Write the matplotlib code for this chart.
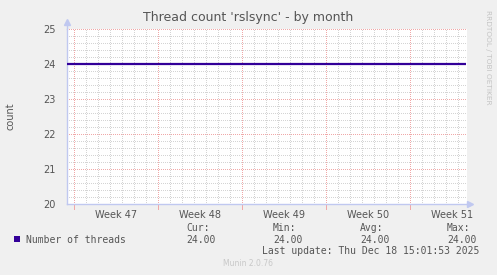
import matplotlib
matplotlib.use('Agg')
import matplotlib.pyplot as plt
from matplotlib.ticker import MultipleLocator

title = "Thread count 'rslsync' - by month"
ylabel = "count"
week_labels = ["Week 47", "Week 48", "Week 49", "Week 50", "Week 51"]
week_starts = [0, 7, 14, 21, 28]          # days since Mon 17 Nov 2025
series_name = "Number of threads"
days = [-0.6, 32.7]
threads = [24.0, 24.0]
stats_labels = ["Cur:", "Min:", "Avg:", "Max:"]
stats_values = [24.00, 24.00, 24.00, 24.00]
last_update = "Last update: Thu Dec 18 15:01:53 2025"
yticks = [20, 21, 22, 23, 24, 25]
footer = "Munin 2.0.76"
side_text = "RRDTOOL / TOBI OETIKER"

W, H = 497, 275
BG = '#F0F0F0'
TXT = '#555555'
LINE = '#330099'
MAJ = '#F0A8A8'
MIN = '#D4D4D4'
AX = '#C0C8F0'
DOT = (0, (1, 2))

fig = plt.figure(figsize=(W / 100, H / 100), dpi=100, facecolor=BG)
L, R, T, B = 67, 467, 29, 204
ax = fig.add_axes([L / W, 1 - B / H, (R - L) / W, (B - T) / H])
ax.set_facecolor('white')

x0, x1 = -7 / 12, (467 - 74) / 12
ax.set_xlim(x0, x1)
ax.set_ylim(20, 25)

# grids
ax.yaxis.set_major_locator(MultipleLocator(1))
ax.yaxis.set_minor_locator(MultipleLocator(0.2))
ax.xaxis.set_minor_locator(MultipleLocator(1))
ax.grid(which='minor', axis='both', color=MIN, linestyle=DOT, linewidth=0.72,
        zorder=0, antialiased=False)
ax.grid(which='major', axis='y', color=MAJ, linestyle=DOT, linewidth=0.72,
        zorder=1, antialiased=False)
for ws in week_starts:
    ax.axvline(ws, color=MAJ, linestyle=DOT, linewidth=0.72, zorder=1, antialiased=False)
    ax.plot([ws, ws], [20, 19.87], color=MAJ, linewidth=0.72, clip_on=False, zorder=1)

ax.set_yticks(yticks)
ax.set_yticklabels([str(v) for v in yticks])
mids = [w + 3.5 for w in week_starts]
ax.set_xticks(mids)
ax.set_xticklabels(week_labels)
ax.tick_params(axis='both', which='both', length=0, labelsize=7, colors=TXT)
ax.tick_params(axis='y', pad=8)
ax.tick_params(axis='x', pad=4)
ax.set_axisbelow(True)

for s in ['top', 'right']:
    ax.spines[s].set_visible(False)
for s in ['left', 'bottom']:
    ax.spines[s].set_color(AX)
    ax.spines[s].set_linewidth(1.0)

# arrows
ax.plot([x0], [25.2], marker='^', markersize=4, color=AX, clip_on=False, zorder=5)
ax.plot([x0, x0], [25, 25.2], color=AX, lw=1.0, clip_on=False)
ax.plot([x1 + 0.25], [20], marker='>', markersize=4, color=AX, clip_on=False, zorder=5)
ax.plot([x1, x1 + 0.25], [20, 20], color=AX, lw=1.0, clip_on=False)

ax.plot(days, threads, color=LINE, linewidth=1.6, zorder=4, solid_capstyle='butt')

def px(x, y):
    return x / W, 1 - y / H

fig.text(*px(248, 18), title, ha='center', va='center', fontsize=9, color=TXT)
fig.text(*px(10, 116), ylabel, ha='center', va='center', rotation=90, fontsize=7, color=TXT)
fig.text(*px(488, 57), side_text, ha='center', va='center', rotation=270, fontsize=5.3, color='#C4C4C4')

# legend
fig.patches.append(plt.Rectangle(px(14, 242), 6 / W, 6 / H, transform=fig.transFigure,
                                 facecolor=LINE, edgecolor='none'))
mono = 'DejaVu Sans Mono'
fig.text(*px(26, 240), series_name, ha='left', va='center', fontsize=7, family=mono, color=TXT)
stat_x = [186, 273, 360, 447]
for sx, lab, val in zip(stat_x, stats_labels, stats_values):
    fig.text(*px(sx, 228), lab, ha='left', va='center', fontsize=7, family=mono, color=TXT)
    fig.text(*px(sx, 240), f"{val:.2f}", ha='left', va='center', fontsize=7, family=mono, color=TXT)
fig.text(*px(262, 251), last_update, ha='left', va='center', fontsize=7, family=mono, color=TXT)
fig.text(*px(248, 264), footer, ha='center', va='center', fontsize=5.5, color='#C8C8C8')

fig.savefig('out.png', dpi=100, facecolor=BG)
